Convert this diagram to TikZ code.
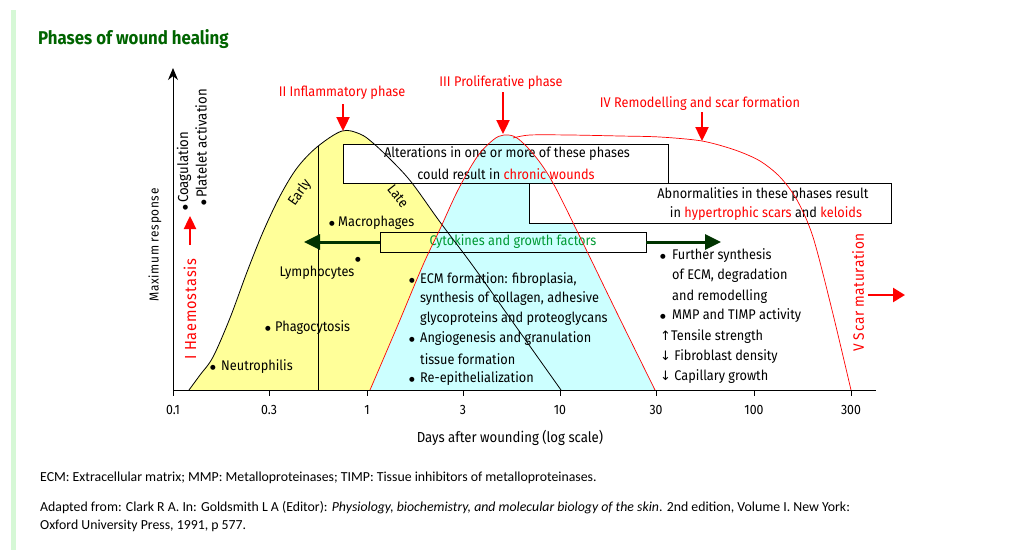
\documentclass[tikz,border=0pt]{standalone}
\usepackage{fontspec}
\setmainfont{Fira Sans}[FakeStretch=0.91]
\newfontfamily\footfont{Carlito}
\newfontfamily\arrfont{DejaVu Sans}
\usetikzlibrary{arrows.meta}
\definecolor{yel}{HTML}{FFFF99}
\definecolor{cya}{HTML}{CCFFFF}
\definecolor{dgreen}{HTML}{003300}
\definecolor{tgreen}{HTML}{006400}
\definecolor{cgreen}{HTML}{009933}
\definecolor{barg}{HTML}{D6F8D6}
\pgfdeclarelayer{l1}\pgfdeclarelayer{l2}\pgfdeclarelayer{l3}\pgfdeclarelayer{l4}
\pgfsetlayers{l1,l2,l3,l4,main}
\newcommand\dotchar{\raisebox{1pt}{\arrfont\fontsize{6.5}{7}\selectfont ●}}
\newcommand\bul[1]{\makebox[#1][l]{\dotchar}}
\tikzset{
  txt/.style={inner sep=0pt, font=\fontsize{14}{16}\selectfont},
  small/.style={inner sep=0pt, font=\fontsize{13.5}{15}\selectfont},
  redtxt/.style={txt, text=red},
  redarr/.style={red, line width=2.4pt, -{Triangle[length=14pt,width=13pt]}},
  grnarr/.style={dgreen, line width=3pt, -{Triangle[length=16pt,width=15pt]}},
  boxst/.style={draw, line width=0.8pt, inner sep=0pt},
  blk/.style={black, line width=0.8pt},
  rdc/.style={red, line width=0.7pt},
  foot/.style={inner sep=0pt, anchor=west, font=\footfont\fontsize{13.8}{16}\selectfont},
}
\begin{document}
\begin{tikzpicture}[x=1pt,y=-1pt]
\useasboundingbox (0,0) rectangle (1013,550);
\fill[barg] (11,10) rectangle (16,550);

% title
\node[inner sep=0pt, anchor=west, text=tgreen, font=\bfseries\fontsize{18.5}{20}\selectfont] (title) at (38,39) {Phases of wound healing};

% boxes
\node[boxst, minimum width=325pt, minimum height=39pt] (box1) at (505.5,163.5) {};
\node[txt] (al1) at (507,154) {Alterations in one or more of these phases};
\node[txt] (al2) at (506,174) {could result in \textcolor{red}{chronic wounds}};
\node[boxst, minimum width=362pt, minimum height=40pt] (box2) at (710,203) {};
\node[txt] (ab1) at (763,195) {Abnormalities in these phases result};
\node[txt] (ab2) at (766,214) {in \textcolor{red}{hypertrophic scars} and \textcolor{red}{keloids}};
\node[boxst, minimum width=266pt, minimum height=20pt, txt, text=cgreen] (cyto) at (513,242) {Cytokines and growth factors};

% fills
\begin{pgfonlayer}{l1}
\fill[yel] plot[smooth, tension=0.55] coordinates {(189,390) (200,375) (213,357) (230,318) (247,272) (263,232) (280,196) (297,168) (317,147) (342,131) (360,134) (373,143) (393,162) (412,183) (440,222) (473,266) (517,328) (561,390)} -- cycle;
\end{pgfonlayer}
\begin{pgfonlayer}{l2}
\fill[white] (box1.north west) rectangle (box1.south east);
\end{pgfonlayer}
\begin{pgfonlayer}{l3}
\fill[cya] plot[smooth, tension=0.55] coordinates {(370,390) (397,327) (423,265) (440,229) (458,190) (477,157) (493,140) (504,135) (517,138) (535,156) (553,183) (580,237) (617,313) (655,390)} -- cycle;
\end{pgfonlayer}
\begin{pgfonlayer}{l4}
\fill[white] (box2.north west) rectangle (box2.south east);
\end{pgfonlayer}

% curves
\draw[blk] plot[smooth, tension=0.55] coordinates {(189,390) (200,375) (213,357) (230,318) (247,272) (263,232) (280,196) (297,168) (317,147) (342,131) (360,134) (373,143) (393,162) (412,183) (440,222) (473,266) (517,328) (561,390)};
\draw[blk] (318,146) -- (318,390);
\draw[rdc] plot[smooth, tension=0.55] coordinates {(370,390) (397,327) (423,265) (440,229) (458,190) (477,157) (493,140) (504,135) (517,138) (535,156) (553,183) (580,237) (617,313) (655,390)};
\draw[rdc] plot[smooth, tension=0.5] coordinates {(513,138) (530,135) (570,135) (620,136) (660,137) (702,141) (735,150) (760,161) (780,177) (797,200) (813,237) (832,310) (851,390)};

% axes
\coordinate (orig) at (173,390);
\coordinate (ytop) at (173,68);
\coordinate (xend) at (876,390);
\draw[line width=1pt, -{Stealth[length=12pt,width=10pt]}] (orig) -- (ytop);
\draw[line width=1pt] (orig) -- (xend);
\foreach \x/\l [count=\i] in {173/0.1, 269/0.3, 367/1, 463/3, 560/10, 656/30, 754/100, 851/300} {
  \draw[line width=0.8pt] (\x,390) -- (\x,396);
  \node[small] (tick\i) at (\x,410) {\l};
}
\node[inner sep=0pt, font=\fontsize{14.5}{16}\selectfont] (xlab) at (510,438) {Days after wounding (log scale)};
\node[inner sep=0pt, rotate=90, font=\fontsize{13}{15}\selectfont\addfontfeature{LetterSpace=5}] (ylab) at (155,245) {Maximum response};
\node[inner sep=0pt, rotate=90, anchor=west, font=\fontsize{14.5}{16}\selectfont] (coag) at (184,211) {\bul{8pt}Coagulation};
\node[inner sep=0pt, rotate=90, anchor=west, font=\fontsize{14.5}{16}\selectfont] (plat) at (201,206) {\bul{8pt}Platelet activation};
\node[inner sep=0pt, rotate=90, anchor=west, text=red, font=\fontsize{16}{18}\selectfont\addfontfeature{LetterSpace=5}] (haem) at (190,360) {I Haemostasis};
\coordinate (hs) at (190,245);
\coordinate (ht) at (190,216);
\draw[red, line width=2.4pt, -{Triangle[length=13pt,width=12pt]}] (hs) -- (ht);

% phase labels and arrows
\node[redtxt] (lab2) at (342,93) {II Inflammatory phase};
\node[redtxt] (lab3) at (501,83) {III Proliferative phase};
\node[redtxt] (lab4) at (700,104) {IV Remodelling and scar formation};
\node[inner sep=0pt, rotate=90, anchor=west, text=red, font=\fontsize{15}{17}\selectfont\addfontfeature{LetterSpace=4}] (lab5) at (858,352) {V Scar maturation};
\coordinate (a2s) at (343,104); \coordinate (a2e) at (343,131);
\coordinate (a3s) at (503,92);  \coordinate (a3e) at (503,134);
\coordinate (a4s) at (702,112); \coordinate (a4e) at (702,141);
\coordinate (a5s) at (868,295); \coordinate (a5e) at (905,295);
\draw[redarr] (a2s) -- (a2e);
\draw[redarr] (a3s) -- (a3e);
\draw[redarr] (a4s) -- (a4e);
\draw[red, line width=2.4pt, -{Triangle[length=12pt,width=14pt]}] (a5s) -- (a5e);

% cytokines arrows
\coordinate (cl) at (304,242);
\coordinate (cr) at (721,242);
\draw[grnarr] (cyto.west) -- (cl);
\draw[grnarr] (cyto.east) -- (cr);

% inflammatory labels
\node[txt, rotate=55] (early) at (300,193) {Early};
\node[txt, rotate=-52] (late) at (398,196) {Late};
\node[txt, anchor=west] (macro) at (329,223) {\bul{9pt}Macrophages};
\node[txt] (lymdot) at (358,260) {\dotchar};
\node[txt] (lympho) at (317,273) {Lymphocytes};
\node[txt, anchor=west] (phago) at (265,328) {\bul{10pt}Phagocytosis};
\node[txt, anchor=west] (neutro) at (210,367) {\bul{11pt}Neutrophilis};

% proliferative list
\node[txt, anchor=west] (p1) at (409,280) {\bul{11pt}ECM formation: fibroplasia,};
\node[txt, anchor=west] (p2) at (420,299) {synthesis of collagen, adhesive};
\node[txt, anchor=west] (p3) at (420,319) {glycoproteins and proteoglycans};
\node[txt, anchor=west] (p4) at (409,339) {\bul{11pt}Angiogenesis and granulation};
\node[txt, anchor=west] (p5) at (420,359) {tissue formation};
\node[txt, anchor=west] (p6) at (409,379) {\bul{11pt}Re-epithelialization};

% remodelling list
\node[txt, anchor=west] (r1) at (660,256) {\bul{12pt}Further synthesis};
\node[txt, anchor=west] (r2) at (672,276) {of ECM, degradation};
\node[txt, anchor=west] (r3) at (672,297) {and remodelling};
\node[txt, anchor=west] (r4) at (660,316) {\bul{12pt}MMP and TIMP activity};
\node[txt, anchor=west] (r5) at (660,337) {{\arrfont\fontsize{13}{15}\selectfont ↑}Tensile strength};
\node[txt, anchor=west] (r6) at (660,357) {{\arrfont\fontsize{13}{15}\selectfont ↓} Fibroblast density};
\node[txt, anchor=west] (r7) at (660,377) {{\arrfont\fontsize{13}{15}\selectfont ↓} Capillary growth};

% footer
\node[foot] (f1) at (40,478) {ECM: Extracellular matrix; MMP: Metalloproteinases; TIMP: Tissue inhibitors of metalloproteinases.};
\node[foot] (f2) at (40,508) {Adapted from: Clark R A. In: Goldsmith L A (Editor): \textit{Physiology, biochemistry, and molecular biology of the skin}. 2nd edition, Volume I. New York:};
\node[foot] (f3) at (40,526) {Oxford University Press, 1991, p 577.};
\end{tikzpicture}
\end{document}
